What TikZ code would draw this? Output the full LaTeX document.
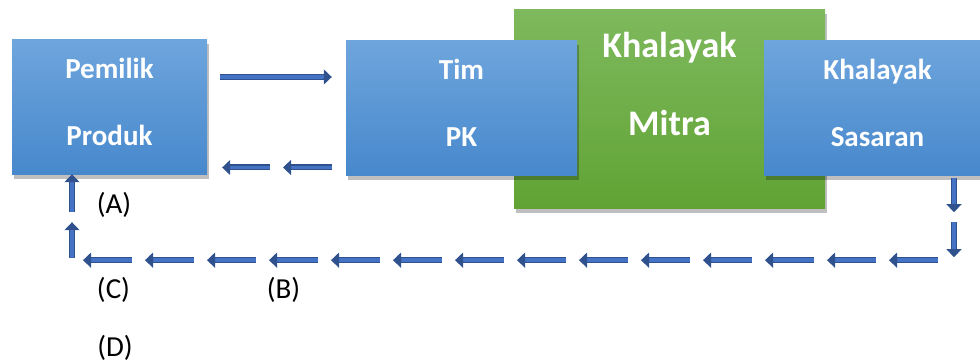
\documentclass[tikz,border=0pt]{standalone}
\usepackage{fontspec}
\setmainfont{Carlito}
\usetikzlibrary{calc, positioning}
\usetikzlibrary{arrows.meta}
\usetikzlibrary{shadows}

\definecolor{bluetop}{HTML}{6EA5DD}
\definecolor{bluebot}{HTML}{4788CC}
\definecolor{greentop}{HTML}{7EB95D}
\definecolor{greenbot}{HTML}{61A334}
\definecolor{arrowline}{HTML}{2F528F}
\definecolor{arrowfill}{HTML}{4472C4}

\tikzset{
  boxshadow/.style={drop shadow={shadow xshift=1.5pt, shadow yshift=-4pt, opacity=0.25, fill=black}},
  bluebox/.style={rectangle, minimum height=135pt, inner sep=0pt,
    top color=bluetop, bottom color=bluebot, boxshadow,
    text=white, align=center, font=\fontsize{29}{35}\selectfont\bfseries},
  greenbox/.style={rectangle, minimum width=311pt, minimum height=199pt, inner sep=0pt,
    top color=greentop, bottom color=greenbot, boxshadow,
    text=white, align=center, font=\fontsize{36}{43}\selectfont\bfseries},
  blockarrow/.style={draw=arrowline, line width=1.2pt, double=arrowfill, double distance=3.6pt,
    -{Triangle[width=15pt, length=8pt]}},
  tag/.style={font=\fontsize{29}{35}\selectfont}
}

\begin{document}
\begin{tikzpicture}[x=1pt, y=-1pt]
\useasboundingbox (0,0) rectangle (980,363);

\node[greenbox] (partner) at (669.5,109.5) {Khalayak\\[35pt]Mitra\rule[-52pt]{0pt}{0pt}};
\node[bluebox, minimum width=195pt] (owner) at (109.5,107.5) {Pemilik\\[32pt]Produk\rule[-11pt]{0pt}{0pt}};
\node[bluebox, minimum width=231pt] (team) at (461.5,108.5) {Tim\\[32pt]PK\rule[-11pt]{0pt}{0pt}};
\node[bluebox, minimum width=227pt] (target) at (877.5,108.5) {Khalayak\\[32pt]Sasaran\rule[-11pt]{0pt}{0pt}};

% forward and back between owner and team
\draw[blockarrow] ([xshift=13pt, yshift=30.5pt]owner.east) -- ([xshift=-14pt, yshift=30.5pt]owner.east -| team.west);
\coordinate (backL) at ([xshift=15pt, yshift=-60pt]owner.east);
\coordinate (backR) at ($(backL -| team.west)+(-14,0)$);
\draw[blockarrow] (backR) -- ($(backR)!0.445!(backL)$);
\draw[blockarrow] ($(backR)!0.564!(backL)$) -- (backL);

% loop back from target to owner
\coordinate (downT) at ([xshift=76.5pt]target.south);
\coordinate (cornerR) at ([yshift=-84pt]downT);
\coordinate (upB) at ([xshift=-37.5pt]owner.south);
\coordinate (cornerL) at (upB |- cornerR);

\draw[blockarrow] ([yshift=-2pt]downT) -- ([yshift=-36pt]downT);
\draw[blockarrow] ([yshift=-46pt]downT) -- ([yshift=-81pt]downT);
\foreach \i in {0,...,13}
  \draw[blockarrow] ([xshift={(-16-62*\i)*1pt}]cornerR) -- ([xshift={(-65-62*\i)*1pt}]cornerR);
\draw[blockarrow] ([yshift=2pt]cornerL) -- ([yshift=38pt]cornerL);
\draw[blockarrow] ([yshift=-37pt]upB) -- ([yshift=1pt]upB);

\node[tag] (tagA) at (114,205) {(A)};
\node[tag] (tagB) at (283.5,290) {(B)};
\node[tag] (tagC) at (113.5,290) {(C)};
\node[tag] (tagD) at (115,348) {(D)};
\end{tikzpicture}
\end{document}
